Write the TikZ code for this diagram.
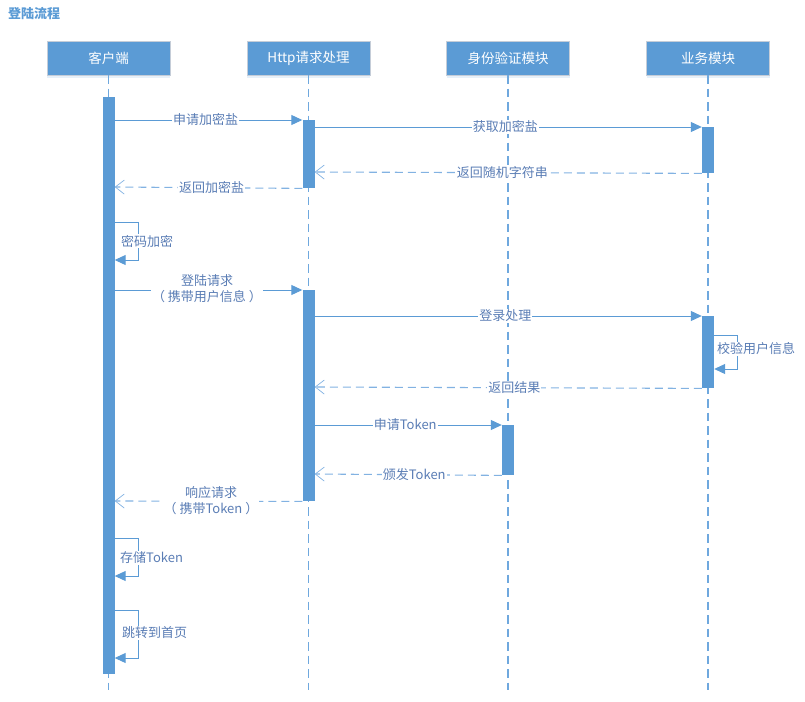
\documentclass[tikz,border=0pt]{standalone}
\usepackage{fontspec}
\setmainfont{Noto Sans CJK SC}
\usetikzlibrary{arrows.meta,shadows}
\definecolor{sblue}{HTML}{5B9BD5}
\definecolor{lblue}{HTML}{6FA8DE}
\definecolor{rblue}{HTML}{82B2E2}
\definecolor{tblue}{HTML}{5A7DB5}
\definecolor{bgray}{HTML}{C5CDD8}
\tikzset{
  head/.style={draw=bgray, fill=sblue, text=white, minimum width=123pt, minimum height=34pt,
    font=\fontsize{13.5}{15}\selectfont, inner sep=0pt,
    drop shadow={shadow xshift=0pt, shadow yshift=-3pt, opacity=0.15, fill=sblue}},
  life/.style={draw=lblue, line width=1.4pt, dash pattern=on 8.5pt off 5pt},
  actbar/.style={fill=sblue, draw=none, minimum width=12pt, inner sep=0pt, anchor=north},
  msg/.style={draw=sblue, line width=1pt, -{Triangle[length=11pt,width=10pt]}},
  ret/.style={draw=rblue, line width=1.1pt, dash pattern=on 8pt off 5pt, -{Straight Barb[length=9pt,width=14pt,line width=0.7pt]}},
  lbl/.style={fill=white, text=tblue, font=\fontsize{13}{15}\selectfont, inner sep=1pt},
  slbl/.style={text=tblue, font=\fontsize{13}{15}\selectfont, inner sep=1pt, anchor=west},
}
\begin{document}
\begin{tikzpicture}[x=1pt,y=-1pt]
\useasboundingbox (0,0) rectangle (805,701);
% title
\node[text=sblue, font=\bfseries\fontsize{13}{14}\selectfont, anchor=west, inner sep=0pt] (title) at (8,14) {登陆流程};
% headers
\node[head] (h1) at (108.5,58) {客户端};
\node[head] (h2) at (308.5,58) {Http请求处理};
\node[head] (h3) at (508,58) {身份验证模块};
\node[head] (h4) at (708,58) {业务模块};
% lifeline ends
\coordinate (e1) at (108.5,690);
\coordinate (e2) at (308.5,690);
\coordinate (e3) at (508,690);
\coordinate (e4) at (708,690);
\draw[life] (h1.south) -- (e1);
\draw[life] (h2.south) -- (e2);
\draw[life] (h3.south) -- (e3);
\draw[life] (h4.south) -- (e4);
% activation bars
\node[actbar, minimum height=577pt] (c) at (108.5,97) {};
\node[actbar, minimum height=68pt] (hA) at (308.5,120) {};
\node[actbar, minimum height=46pt] (bA) at (708,127) {};
\node[actbar, minimum height=211pt] (hB) at (308.5,290) {};
\node[actbar, minimum height=72pt] (bB) at (708,316) {};
\node[actbar, minimum height=50pt] (aA) at (508,425) {};
% 1 申请加密盐
\draw[msg] (c.east |- 0,120) -- node[lbl, xshift=-3pt] (m1) {申请加密盐} (hA.north west);
% 2 获取加密盐
\draw[msg] (hA.east |- 0,127) -- node[lbl, xshift=-3pt] (m2) {获取加密盐} (bA.north west);
% 3 返回随机字符串
\draw[ret] (bA.south west) -- node[lbl, xshift=-6pt] (m3) {返回随机字符串} (hA.east |- 0,172);
% 4 返回加密盐
\draw[ret] (hA.south west) -- node[lbl, xshift=3pt] (m4) {返回加密盐} (c.east |- 0,187);
% 5 密码加密 (self)
\draw[draw=sblue, line width=1pt, -{Triangle[length=11pt,width=10pt]}]
  (c.east |- 0,222) -- (138,222) -- (138,260) -- (c.east |- 0,260);
\node[slbl, fill=white] (m5) at (120,241) {密码加密};
% 6 登陆请求
\draw[msg] (c.east |- 0,290) -- (hB.north west);
\node[lbl, align=center, font=\fontsize{13}{16}\selectfont] (m6) at (207,289) {登陆请求\\（\hspace{3pt}携带用户信息\hspace{3pt}）};
% 7 登录处理
\draw[msg] (hB.east |- 0,316) -- node[lbl, xshift=-3pt] (m7) {登录处理} (bB.north west);
% 8 校验用户信息 (self)
\draw[draw=sblue, line width=1pt, -{Triangle[length=11pt,width=10pt]}]
  (bB.east |- 0,335) -- (737,335) -- (737,369) -- (bB.east |- 0,369);
\node[slbl, fill=white] (m8) at (716,349) {校验用户信息};
% 9 返回结果
\draw[ret] (bB.south west) -- node[lbl, xshift=6pt] (m9) {返回结果} (hB.east |- 0,387);
% 10 申请Token
\draw[msg] (hB.east |- 0,425) -- node[lbl, xshift=-3pt] (m10) {申请Token} (aA.north west);
% 11 颁发Token
\draw[ret] (aA.south west) -- node[lbl, xshift=6pt] (m11) {颁发Token} (hB.east |- 0,474);
% 12 响应请求
\draw[ret] (hB.south west) -- (c.east |- 0,501);
\node[lbl, align=center, font=\fontsize{13}{16}\selectfont] (m12) at (211,501) {响应请求\\（\hspace{3pt}携带Token\hspace{3pt}）};
% 13 存储Token (self)
\draw[draw=sblue, line width=1pt, -{Triangle[length=11pt,width=10pt]}]
  (c.east |- 0,538) -- (138,538) -- (138,576) -- (c.east |- 0,576);
\node[slbl, fill=white] (m13) at (119,558) {存储Token};
% 14 跳转到首页 (self)
\draw[draw=sblue, line width=1pt, -{Triangle[length=11pt,width=10pt]}]
  (c.east |- 0,610) -- (138,610) -- (138,658) -- (c.east |- 0,658);
\node[slbl, fill=white] (m14) at (121,633) {跳转到首页};
\end{tikzpicture}
\end{document}
